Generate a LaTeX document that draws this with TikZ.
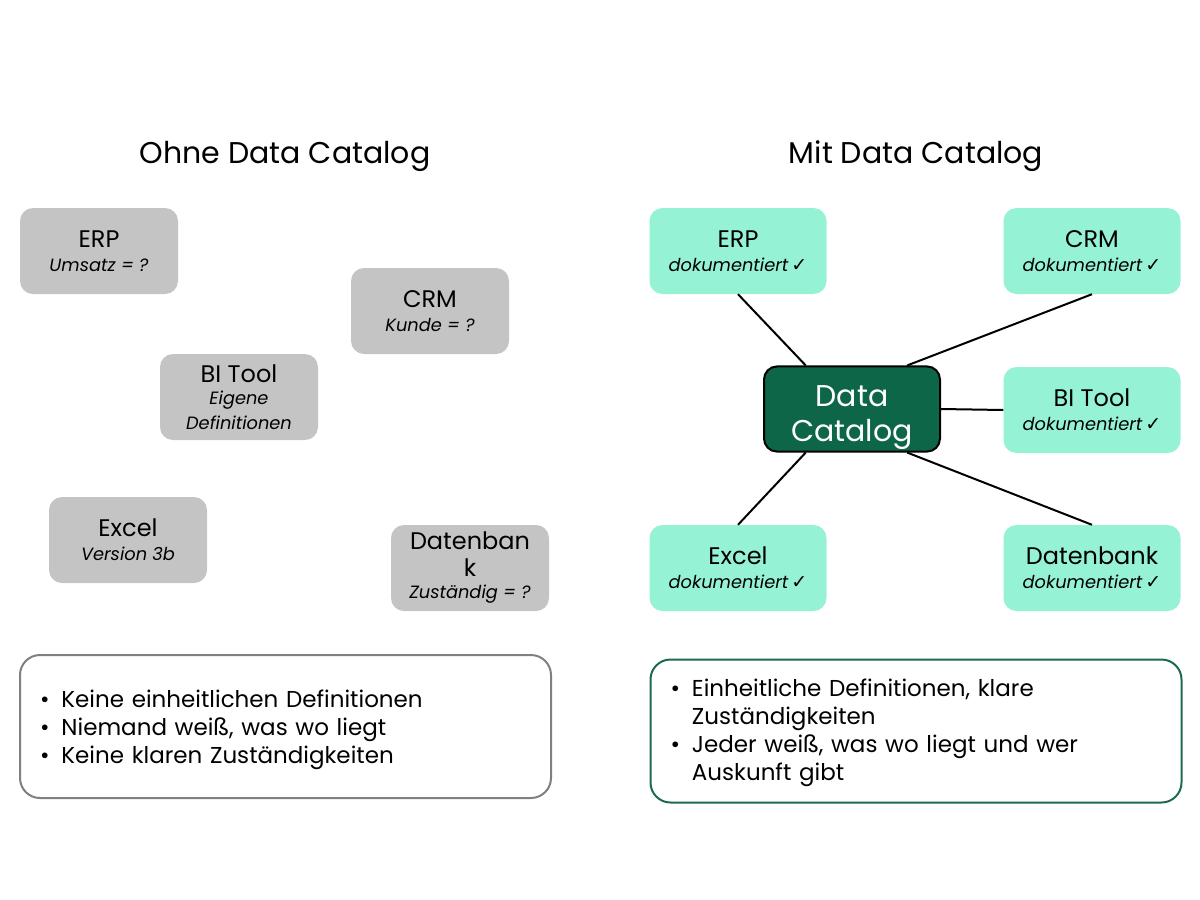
\documentclass[tikz,border=0pt]{standalone}
\usepackage{fontspec}
\setmainfont{Poppins}
\newfontfamily\symfont{DejaVu Sans}
\usetikzlibrary{calc}
\definecolor{boxgray}{HTML}{C4C4C4}
\definecolor{mint}{HTML}{96F2D5}
\definecolor{catgreen}{HTML}{0E6648}
\definecolor{framegreen}{HTML}{1B6B4D}
\definecolor{framegray}{HTML}{808080}
\newcommand{\ok}{\,{\symfont\fontsize{19}{20}\selectfont ✓}}
\newcommand{\subfont}{\fontsize{17.8}{20}\selectfont\itshape}

\begin{document}
\begin{tikzpicture}[x=1pt,y=-1pt]
\tikzstyle{sys}=[rectangle,rounded corners=13pt,minimum height=86pt,align=center,inner sep=2pt,font=\fontsize{24}{25}\selectfont]
\tikzstyle{old}=[sys,fill=boxgray,minimum width=158pt]
\tikzstyle{new}=[sys,fill=mint,minimum width=177pt]
\tikzstyle{link}=[line width=2pt]
\tikzstyle{summary}=[rectangle,draw,line width=2pt,rounded corners=20pt,inner xsep=20pt,text width=491pt,align=left,minimum height=143pt,font=\fontsize{23}{28}\selectfont]
\useasboundingbox (0,0) rectangle (1200,900);

% titles
\node[font=\fontsize{30}{32}\selectfont] (ohne) at (285,156) {Ohne Data Catalog};
\node[font=\fontsize{30}{32}\selectfont] (mit) at (916,156) {Mit Data Catalog};

% without catalog
\node[old] (erp1) at (99,251) {ERP\\[-1pt]\subfont Umsatz = ?};
\node[old] (crm1) at (430,311) {CRM\\[-1pt]\subfont Kunde = ?};
\node[old] (bi1) at (239,397) {BI Tool\\[-3pt]\subfont Eigene\\\subfont Definitionen};
\node[old] (xls1) at (128,540) {Excel\\[-1pt]\subfont Version 3b};
\node[old] (db1) at (470,568) {Datenban\\[2pt]k\\[-3pt]\subfont Zuständig = ?};

% with catalog
\node[sys,fill=catgreen,draw=black,line width=2pt,minimum width=176pt,minimum height=84pt,text=white,font=\fontsize{30}{35}\selectfont] (cat) at (852,409) {\rule{0pt}{38pt}Data\\Catalog};
\node[new] (erp2) at (738,251) {ERP\\[-1pt]\subfont dokumentiert\ok};
\node[new] (crm2) at (1092,251) {CRM\\[-1pt]\subfont dokumentiert\ok};
\node[new] (bi2) at (1092,410) {BI Tool\\[-1pt]\subfont dokumentiert\ok};
\node[new] (xls2) at (738,568) {Excel\\[-1pt]\subfont dokumentiert\ok};
\node[new] (db2) at (1092,568) {Datenbank\\[-1pt]\subfont dokumentiert\ok};

\draw[link] (erp2.south) -- ($(cat.north west)!0.24!(cat.north east)$);
\draw[link] (crm2.south) -- ($(cat.north west)!0.81!(cat.north east)$);
\draw[link] (cat.east) -- (bi2.west);
\draw[link] (xls2.north) -- ($(cat.south west)!0.24!(cat.south east)$);
\draw[link] (db2.north) -- ($(cat.south west)!0.81!(cat.south east)$);

% summaries
\node[summary,draw=framegray] (probl) at (285.5,726.5) {%
\begin{tabular}{@{}l@{\hspace{12pt}}l@{}}
• & \rule{0pt}{26pt}Keine einheitlichen Definitionen\\
• & Niemand weiß, was wo liegt\\
• & Keine klaren Zuständigkeiten
\end{tabular}};
\node[summary,draw=framegreen] (gain) at (916,731) {%
\begin{tabular}{@{}l@{\hspace{12pt}}l@{}}
• & \rule{0pt}{24pt}Einheitliche Definitionen, klare\\
 & Zuständigkeiten\\
• & Jeder weiß, was wo liegt und wer\\
 & Auskunft gibt
\end{tabular}};
\end{tikzpicture}
\end{document}
